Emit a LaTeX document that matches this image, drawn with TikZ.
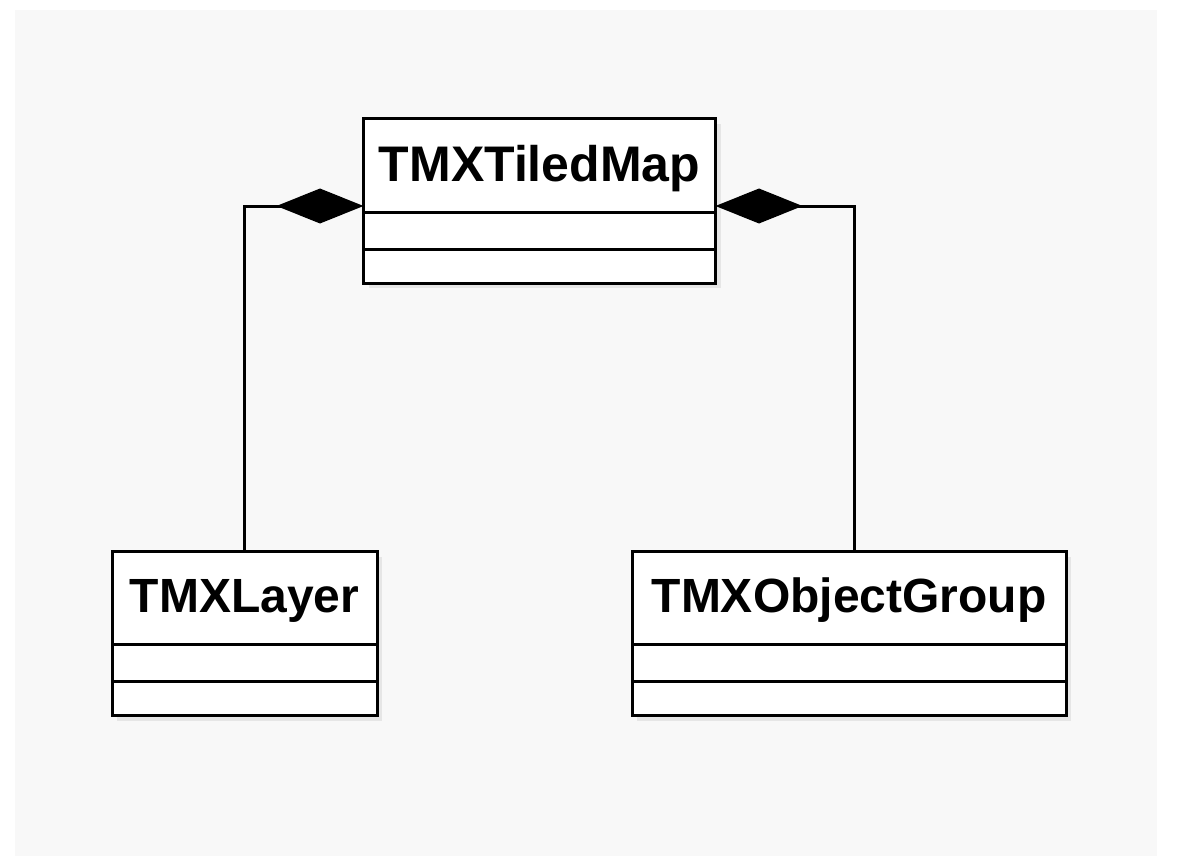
\documentclass[tikz,border=0pt]{standalone}
\usepackage{fontspec}
\setmainfont{Liberation Sans}
\usetikzlibrary{arrows.meta,shadows}
\definecolor{panel}{HTML}{F8F8F8}
\begin{document}
\begin{tikzpicture}[x=0.5pt,y=-0.5pt,
  classbox/.style={draw=black, line width=1.5pt, fill=white, inner sep=0pt, outer sep=0pt,
    minimum height=82pt,
    drop shadow={shadow xshift=2.5pt, shadow yshift=-2.5pt, fill=black, opacity=0.07}},
  classname/.style={font=\fontsize{24}{28}\selectfont\bfseries, inner sep=0pt, anchor=base},
  compline/.style={line width=1.5pt},
  conn/.style={line width=1.5pt},
  comp/.style={-{Diamond[length=43.5pt,width=17.5pt,fill=black,line join=miter]}}
]
\useasboundingbox (0,0) rectangle (1184,856);
\fill[white] (0,0) rectangle (1184,856);
\fill[panel] (15,10) rectangle (1157,856);

% classes
\node[classbox, minimum width=176pt] (map) at (539.5,201) {};
\node[classbox, minimum width=132.5pt] (layer) at (244.5,633.5) {};
\node[classbox, minimum width=217pt] (og) at (849,633.5) {};

\node[classname, font=\fontsize{25}{29}\selectfont\bfseries] (mapname) at ([yshift=-31.5pt]map.north) {TMXTiledMap};
\node[classname] (layername) at ([yshift=-30.5pt]layer.north) {TMXLayer};
\node[classname] (ogname) at ([yshift=-30.5pt]og.north) {TMXObjectGroup};

\foreach \b in {map,layer,og}{
  \draw[compline] ([yshift=-46.5pt]\b.north west) -- ([yshift=-46.5pt]\b.north east);
  \draw[compline] ([yshift=-65pt]\b.north west) -- ([yshift=-65pt]\b.north east);
}

% composition connectors
\draw[conn, comp] (layer.north) |- ([yshift=-2.5pt]map.west);
\draw[conn, comp] ([xshift=2.5pt]og.north) |- ([yshift=-2.5pt]map.east);
\end{tikzpicture}
\end{document}
